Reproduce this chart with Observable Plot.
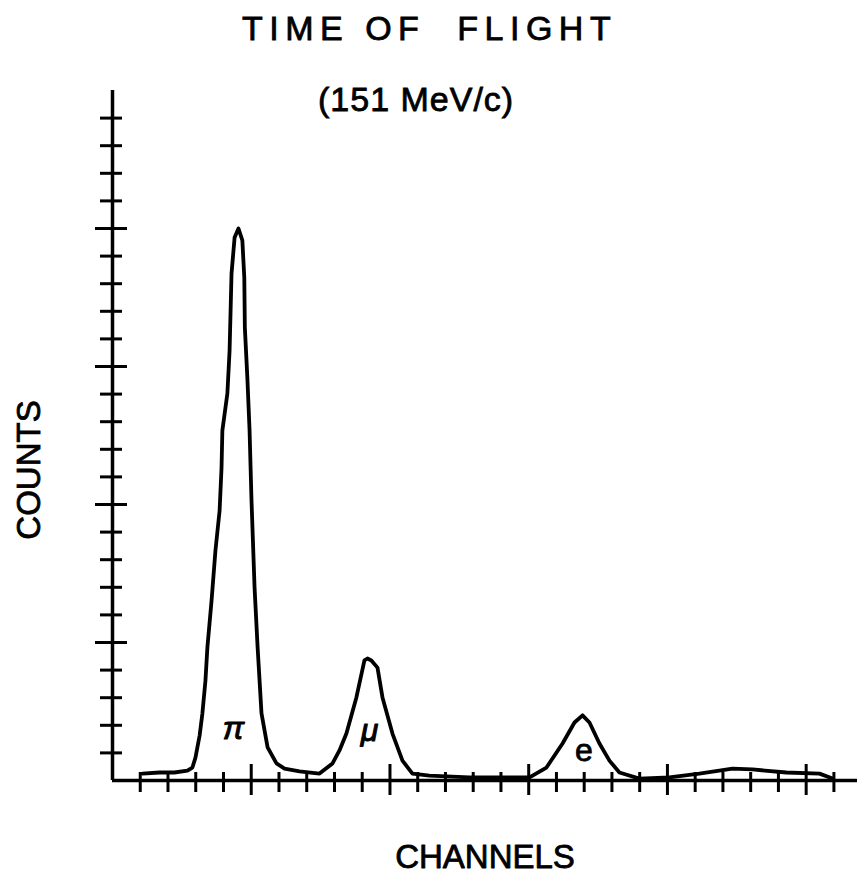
<!DOCTYPE html>
<html>
<head>
<meta charset="utf-8">
<script src="https://cdn.jsdelivr.net/npm/d3@7"></script>
<script src="https://cdn.jsdelivr.net/npm/@observablehq/plot@0.6"></script>
<style>
  html, body { margin: 0; padding: 0; background: #fff; }
  #chart { position: relative; width: 857px; height: 882px; }
  #chart svg { position: absolute; left: 0; top: 0; }
  .t { position: absolute; font-family: "Liberation Sans", Arial, sans-serif; color: #000; white-space: pre; line-height: 1; -webkit-text-stroke: 0.8px #000; }
</style>
</head>
<body>
<div id="chart"></div>
<script>
// Spectrum (channel units, count units)
const channel = [1.08, 1.69, 2.23, 2.70, 2.88, 2.99, 3.14, 3.24, 3.35, 3.42, 3.57, 3.71, 3.86, 3.93, 3.96, 4.14, 4.22, 4.29, 4.40, 4.54,
  4.68, 4.75, 4.77, 4.86, 4.94, 5.01, 5.12, 5.23, 5.37, 5.59, 5.91, 6.20, 6.74, 7.46, 7.93, 8.18, 8.43, 8.79, 9.08, 9.19,
  9.33, 9.55, 9.73, 10.09, 10.45, 10.81, 11.42, 12.86, 14.31, 15.03, 15.64, 16.22, 16.65, 16.94, 17.19, 17.55, 17.91, 18.27, 18.99, 20.07,
  21.15, 21.87, 22.34, 23.06, 24.29, 25.48, 25.95];
const counts = [0.25, 0.29, 0.29, 0.36, 0.47, 0.83, 1.63, 2.43, 3.62, 4.82, 6.52, 8.33, 9.78, 11.34, 12.68, 14.02, 15.58, 18.37, 19.67, 20.0,
  19.57, 18.22, 16.41, 14.60, 12.68, 10.14, 6.99, 4.82, 2.43, 1.20, 0.62, 0.43, 0.33, 0.25, 0.62, 1.09, 1.70, 3.01, 4.35, 4.42,
  4.35, 4.09, 3.01, 1.70, 0.72, 0.25, 0.18, 0.11, 0.11, 0.11, 0.47, 1.34, 2.10, 2.36, 2.10, 1.34, 0.72, 0.29, 0.07, 0.11,
  0.25, 0.36, 0.43, 0.40, 0.29, 0.25, 0.07];

const xTicks = d3.range(1, 27);        // channel ticks
const xMajor = [5, 10, 15, 20, 25];
const yTicks = d3.range(1, 25);        // count ticks
const yMajor = [5, 10, 15, 20];

const peakLabels = ["π", "μ", "e"];
const peakChannel = [4.36, 9.26, 16.99];
const peakCount = [1.88, 1.81, 1.09];

const titleText = "TIME OF  FLIGHT";
const subtitleText = "(151 MeV/c)";
const xLabel = "CHANNELS";
const yLabel = "COUNTS";

const W = 857, H = 882;
const mL = 112, mR = 0, mT = 90, mB = 102;
const xMax = 26.85, yMax = 25;
const pxX = (W - mL - mR) / xMax;
const pxY = (H - mT - mB) / yMax;

const spectrum = channel.map((c, i) => ({c, n: counts[i]}));
const labels = peakLabels.map((t, i) => ({t, c: peakChannel[i], n: peakCount[i]}));
const isMajX = d => xMajor.includes(d);
const isMajY = d => yMajor.includes(d);

const plot = Plot.plot({
  width: W, height: H,
  marginLeft: mL, marginRight: mR, marginTop: mT, marginBottom: mB,
  x: {domain: [0, xMax], axis: null},
  y: {domain: [0, yMax], axis: null},
  style: {fontFamily: "Liberation Sans, Arial, sans-serif", background: "white"},
  marks: [
    // axis lines
    Plot.ruleY([0], {x1: 0, x2: xMax, stroke: "black", strokeWidth: 3.5}),
    Plot.ruleX([0], {y1: 0, y2: yMax, stroke: "black", strokeWidth: 3.5}),
    // x ticks crossing the axis
    Plot.ruleX(xTicks, {x: d => d,
      y1: d => -(isMajX(d) ? 15 : 12) / pxY,
      y2: d => (isMajX(d) ? 16 : 8) / pxY,
      stroke: "black", strokeWidth: 3}),
    // y ticks crossing the axis
    Plot.ruleY(yTicks, {y: d => d,
      x1: d => -(isMajY(d) ? 17 : 12) / pxX,
      x2: d => (isMajY(d) ? 15 : 10) / pxX,
      stroke: "black", strokeWidth: 3}),
    // spectrum
    Plot.line(spectrum, {x: "c", y: "n", stroke: "black", strokeWidth: 3.8, strokeLinejoin: "round"}),
    // peak labels (greek italic, e upright)
    Plot.text(labels, {filter: d => d.t !== "e", x: "c", y: "n", text: "t", fontSize: 32, fontStyle: "italic",
      fill: "black", stroke: "black", strokeWidth: 1}),
    Plot.text(labels, {filter: d => d.t === "e", x: "c", y: "n", text: "t", fontSize: 32,
      fill: "black", stroke: "black", strokeWidth: 0.8}),
    // x axis title
    Plot.text([xLabel], {frameAnchor: "bottom", dx: 0, dy: 87, fontSize: 33, fill: "black", stroke: "black", strokeWidth: 0.8,
      text: d => d, style: "letter-spacing:2.5px"})
  ]
});
const chart = document.getElementById("chart");
chart.appendChild(plot);

function overlay(text, css) {
  const el = document.createElement("div");
  el.className = "t";
  el.textContent = text;
  el.style.cssText += css;
  chart.appendChild(el);
  return el;
}
overlay(titleText, "font-size:34px;letter-spacing:6.5px;left:242px;top:11px;");
overlay(subtitleText, "font-size:34px;letter-spacing:1px;left:318px;top:82px;");
// y axis title, rotated, centred at (28, 470)
overlay(yLabel, "font-size:33px;left:28px;top:470px;transform:translate(-50%,-50%) rotate(-90deg);transform-origin:center;");
</script>
</body>
</html>
